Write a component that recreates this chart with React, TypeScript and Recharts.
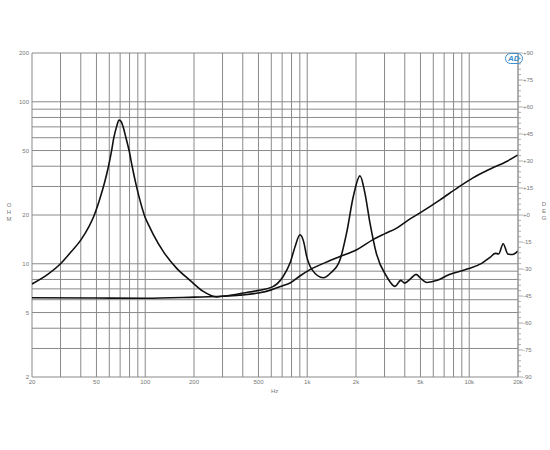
import React from 'react';
import { LineChart, Line, XAxis, YAxis, CartesianGrid } from 'recharts';

// frequency grid (Hz) and which ones get a label
const freqGrid = [
  20, 30, 40, 50, 60, 70, 80, 90, 100, 200, 300, 400, 500, 600, 700, 800, 900,
  1000, 2000, 3000, 4000, 5000, 6000, 7000, 8000, 9000, 10000, 20000,
];
const freqLabels: Record<number, string> = {
  20: '20', 50: '50', 100: '100', 200: '200', 500: '500',
  1000: '1k', 2000: '2k', 5000: '5k', 10000: '10k', 20000: '20k',
};

// ohm grid
const ohmGrid = [2, 3, 4, 5, 6, 7, 8, 9, 10, 20, 30, 40, 50, 60, 70, 80, 90, 100, 200];
const ohmLabels = [2, 5, 10, 20, 50, 100, 200];

// degree ticks on the right (minor every 3, labelled every 15)
const degTicks = Array.from({ length: 61 }, (_, i) => -90 + i * 3);

// curve with the resonance peaks
const peakFreq = [
  20, 25, 30, 35, 40, 45, 48, 52, 56, 59, 62, 64, 66.5, 69, 71, 73, 76, 79.5, 83, 88,
  94, 99, 106, 112, 130, 156, 189, 228, 276, 320, 405, 500, 610, 710, 783, 842, 902, 950,
  992, 1070, 1257, 1400, 1594, 1750, 1925, 2117, 2270, 2440, 2670, 3090, 3480, 3780,
  4000, 4350, 4700, 5100, 5490, 6350, 7470, 9800, 12000, 13500, 14500, 15200, 16200,
  17300, 18500, 20000,
];
const peakOhm = [
  7.5, 8.6, 10, 11.9, 14, 17, 19.5, 24.5, 31.5, 39, 50, 60, 70, 77, 75.5, 70, 60, 50, 40, 30.5,
  23.5, 19.8, 17, 15.2, 11.8, 9.4, 7.9, 6.75, 6.25, 6.35, 6.6, 6.85, 7.2, 8.35, 10.1, 12.8, 15.1, 13.7,
  11.1, 9.2, 8.2, 8.8, 10.6, 15.5, 26, 34.9, 27.3, 17.8, 11.6, 8.35, 7.25, 7.9,
  7.6, 8.1, 8.6, 8.0, 7.67, 7.9, 8.55, 9.3, 10.1, 11, 11.6, 11.5, 13.3,
  11.5, 11.4, 12,
];

// smooth rising curve
const riseFreq = [
  20, 50, 100, 200, 300, 384, 500, 600, 700, 783, 900, 1040, 1300, 1594, 2020, 2548,
  3000, 3565, 4200, 4967, 6607, 8500, 10543, 13500, 17000, 20000,
];
const riseOhm = [
  6.17, 6.15, 6.12, 6.22, 6.3, 6.4, 6.6, 6.9, 7.3, 7.6, 8.4, 9.2, 10.2, 11.1, 12.2, 14.1,
  15.3, 16.6, 18.6, 20.6, 24.8, 29.5, 33.9, 38.5, 42.8, 47,
];

const peakData = peakFreq.map((f, i) => ({ f, ohm: peakOhm[i] }));
const riseData = riseFreq.map((f, i) => ({ f, ohm: riseOhm[i] }));

const labelStyle = { fontSize: 6, fill: '#777', fontFamily: 'Liberation Sans, Arial, sans-serif' };

const renderDegTick = (props: any) => {
  const { x, y, payload } = props;
  const v = payload.value;
  const major = v % 15 === 0;
  const txt = v > 0 ? '+' + v : v === 0 ? '+0' : String(v);
  return (
    <g key={'deg' + v}>
      <line x1={x} x2={x + (major ? 5 : 3)} y1={y} y2={y} stroke="#999" strokeWidth={0.8} />
      {major && (
        <text x={x + 5} y={y} dy={2} textAnchor="start" {...labelStyle}>
          {txt}
        </text>
      )}
    </g>
  );
};

const stacked = (letters: string[], left: number, top: number) => (
  <div
    style={{
      position: 'absolute', left, top, fontSize: 6, lineHeight: '7px', color: '#777',
      fontFamily: 'Liberation Sans, Arial, sans-serif', textAlign: 'center', width: 8,
    }}
  >
    {letters.map((l) => (
      <div key={l}>{l}</div>
    ))}
  </div>
);

export default function App() {
  return (
    <div style={{ position: 'absolute', left: 0, top: 0, width: 550, height: 450, background: '#fff' }}>
      <LineChart width={550} height={450} data={peakData} margin={{ top: 53, right: 0, bottom: 0, left: 0 }}>
        <CartesianGrid stroke="#8a8a8a" strokeWidth={1} horizontalValues={ohmGrid} verticalValues={freqGrid} yAxisId="ohm" />
        <XAxis
          dataKey="f"
          type="number"
          scale="log"
          domain={[20, 20000]}
          ticks={freqGrid}
          interval={0}
          allowDataOverflow
          height={73}
          tickLine={false}
          axisLine={false}
          tickSize={0}
          tickMargin={3}
          tick={labelStyle}
          tickFormatter={(v: number) => freqLabels[v] ?? ''}
        />
        <YAxis
          yAxisId="ohm"
          type="number"
          scale="log"
          domain={[2, 200]}
          ticks={ohmLabels}
          interval={0}
          allowDataOverflow
          width={32}
          tickLine={false}
          axisLine={false}
          tickSize={0}
          tickMargin={3}
          tick={labelStyle}
        />
        <YAxis
          yAxisId="deg"
          orientation="right"
          type="number"
          domain={[-90, 90]}
          ticks={degTicks}
          interval={0}
          allowDataOverflow
          width={32}
          tickLine={false}
          axisLine={{ stroke: '#999' }}
          tickSize={0}
          tickMargin={0}
          tick={renderDegTick}
        />
        <Line
          yAxisId="ohm"
          data={peakData}
          dataKey="ohm"
          type="monotone"
          stroke="#111"
          strokeWidth={1.6}
          dot={false}
          isAnimationActive={false}
        />
        <Line
          yAxisId="ohm"
          data={riseData}
          dataKey="ohm"
          type="monotone"
          stroke="#111"
          strokeWidth={1.6}
          dot={false}
          isAnimationActive={false}
        />
      </LineChart>
      {stacked(['O', 'H', 'M'], 5, 202)}
      {stacked(['D', 'E', 'G'], 540, 201)}
      <div
        style={{
          position: 'absolute', left: 271, top: 388, fontSize: 6, color: '#777',
          fontFamily: 'Liberation Sans, Arial, sans-serif',
        }}
      >
        Hz
      </div>
      <div
        style={{
          position: 'absolute', left: 505, top: 53, fontSize: 8, color: '#3d8fd0', fontStyle: 'italic',
          fontWeight: 'bold', fontFamily: 'Liberation Sans, Arial, sans-serif',
          border: '1px solid #3d8fd0', borderRadius: 7, padding: '0 2px', lineHeight: '9px',
        }}
      >
        AD
      </div>
    </div>
  );
}
